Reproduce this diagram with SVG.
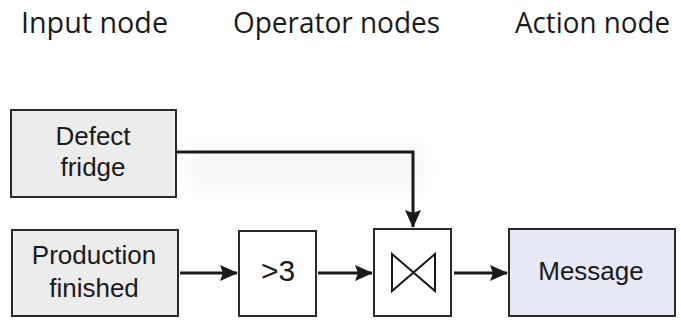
<svg xmlns="http://www.w3.org/2000/svg" width="681" height="320" viewBox="0 0 681 320">
<style>
.hdr{font-family:"Open Sans","Noto Sans",sans-serif;font-size:29px;fill:#1a1a1a}
.lbl{font-family:"Liberation Sans",Arial,sans-serif;font-size:26px;fill:#1a1a1a;text-anchor:middle}
.box{stroke:#2a2a2a;stroke-width:2}
.in{fill:#ececec}
.op{fill:#ffffff}
.act{fill:#e6e8f5}
.con{stroke:#1a1a1a;stroke-width:3;fill:none}
</style>
<defs>
<marker id="ah" markerWidth="18" markerHeight="16" refX="17" refY="8" orient="auto" markerUnits="userSpaceOnUse" viewBox="0 0 18 16">
<path d="M0,0 L18,8 L0,16 L3,8 Z" fill="#1a1a1a"/>
</marker>
<filter id="haze" x="-20%" y="-50%" width="140%" height="200%">
<feGaussianBlur stdDeviation="8"/>
</filter>
</defs>
<rect width="681" height="320" fill="#fff"/>
<rect x="190" y="145" width="235" height="45" fill="#f7f7f7" filter="url(#haze)"/>
<text class="hdr" x="21" y="33" textLength="147" lengthAdjust="spacingAndGlyphs">Input node</text>
<text class="hdr" x="233" y="33" textLength="207" lengthAdjust="spacingAndGlyphs">Operator nodes</text>
<text class="hdr" x="515" y="33" textLength="155" lengthAdjust="spacingAndGlyphs">Action node</text>
<g id="connectors">
<path class="con" d="M177,152 H413 V227" marker-end="url(#ah)"/>
<path class="con" d="M180,273 H237" marker-end="url(#ah)"/>
<path class="con" d="M318,273 H372" marker-end="url(#ah)"/>
<path class="con" d="M454,273 H507" marker-end="url(#ah)"/>
</g>
<g id="defect">
<rect class="box in" x="11" y="110" width="165" height="87"/>
<text class="lbl" x="93" y="145">Defect</text>
<text class="lbl" x="93" y="176">fridge</text>
</g>
<g id="production">
<rect class="box in" x="12" y="230" width="166" height="86"/>
<text class="lbl" x="94" y="264">Production</text>
<text class="lbl" x="94" y="297">finished</text>
</g>
<g id="gt3">
<rect class="box op" x="239" y="231" width="77" height="85"/>
<text class="lbl" x="278" y="281" style="font-size:30px">&gt;3</text>
</g>
<g id="join">
<rect class="box op" x="374" y="229" width="77" height="87"/>
<path d="M392,254 L435,291 L435,254 L392,291 Z" fill="none" stroke="#1a1a1a" stroke-width="2"/>
</g>
<g id="message">
<rect class="box act" x="509" y="229" width="166" height="87"/>
<text class="lbl" x="591" y="280">Message</text>
</g>
</svg>
